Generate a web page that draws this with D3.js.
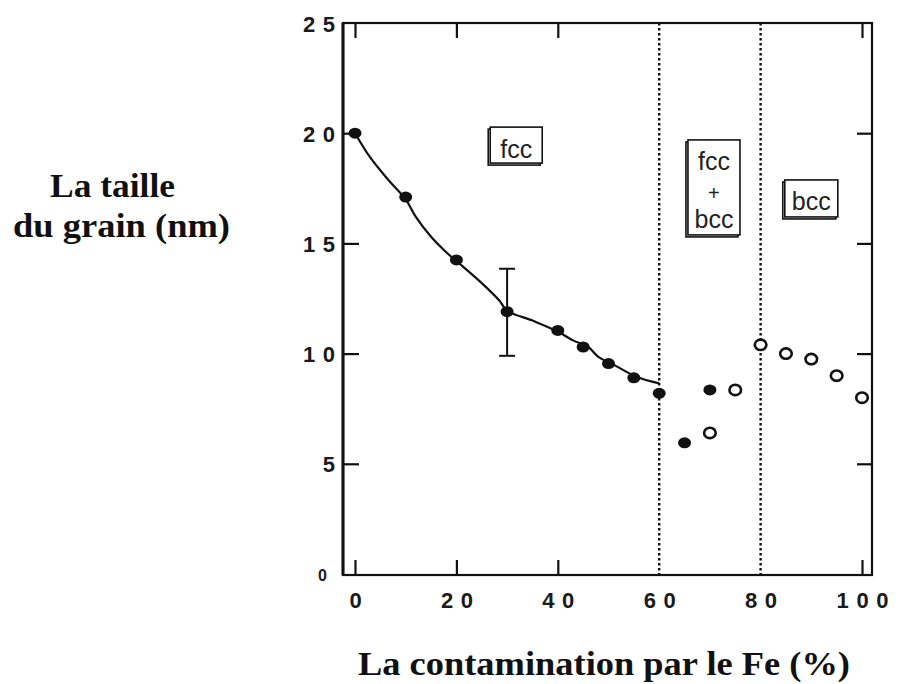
<!DOCTYPE html>
<html>
<head>
<meta charset="utf-8">
<script src="https://cdn.jsdelivr.net/npm/d3@7"></script>
<style>
  html, body { margin: 0; padding: 0; background: #fff; }
  svg { display: block; }
</style>
</head>
<body>
<svg id="chart" width="899" height="684"></svg>
<script>
// Grain size versus Fe contamination
const xTickValues = [0, 20, 40, 60, 80, 100];
const yTickValues = [0, 5, 10, 15, 20, 25];

// fcc single-phase samples (filled)
const fccX = [0, 10, 20, 30, 40, 45, 50, 55, 60];
const fccY = [20.0, 17.1, 14.25, 11.9, 11.05, 10.3, 9.55, 8.9, 8.2];

// filled points in the two-phase region
const mixFilledX = [65, 70];
const mixFilledY = [5.95, 8.35];

// open points
const openX = [70, 75, 80, 85, 90, 95, 100];
const openY = [6.4, 8.35, 10.4, 10.0, 9.75, 9.0, 8.0];

// hand-drawn trend line through the fcc points
const trendX = [0, 3, 6.5, 10, 12, 15, 18, 20, 25, 28.5, 30, 35, 40, 43, 46, 48, 51, 55.5, 60];
const trendY = [20.0, 18.9, 17.9, 17.0, 16.2, 15.3, 14.6, 14.2, 13.2, 12.4, 11.95, 11.5, 11.0, 10.6, 10.3, 9.85, 9.5, 8.95, 8.65];

// error bar on the 30 % sample
const errX = [30];
const errLow = [9.9];
const errHigh = [13.85];

// phase boundaries
const boundaries = [60, 80];

// phase labels
const phaseLabels = [["fcc"], ["fcc", "+", "bcc"], ["bcc"]];

const xTitle = "La contamination par le Fe (%)";
const yTitle = ["La taille", "du grain (nm)"];

const svg = d3.select("#chart");

const frame = { left: 343, right: 872, top: 23, bottom: 575 };
const x = d3.scaleLinear().domain([0, 100]).range([355, 862]);
const y = d3.scaleLinear().domain([0, 25]).range([574, 23]);

const ink = "#111";
const tickFont = "Liberation Sans, Arial, sans-serif";

// plot frame
svg.append("rect")
  .attr("x", frame.left).attr("y", frame.top)
  .attr("width", frame.right - frame.left)
  .attr("height", frame.bottom - frame.top)
  .attr("fill", "none").attr("stroke", ink).attr("stroke-width", 2.2);
svg.append("line")
  .attr("x1", frame.left).attr("x2", frame.left)
  .attr("y1", frame.top).attr("y2", frame.bottom)
  .attr("stroke", ink).attr("stroke-width", 3);

function styleLabels(sel) {
  sel.attr("font-family", tickFont)
    .attr("font-size", 22).attr("font-weight", "bold").attr("fill", "#1a1a1a")
    .each(function (d) {
      const s = String(d);
      if (s.length > 1) d3.select(this).attr("textLength", s.length * 20 - 8).attr("lengthAdjust", "spacing");
    });
}

// bottom axis: inward ticks + labels
const bottomAxis = d3.axisBottom(x).tickValues(xTickValues).tickSize(-15).tickFormat(d3.format("d"));
const gB = svg.append("g").attr("transform", `translate(0,${frame.bottom})`).call(bottomAxis);
gB.select(".domain").remove();
gB.selectAll(".tick line").attr("stroke", ink).attr("stroke-width", 2.2)
  .attr("display", d => boundaries.includes(d) ? "none" : null);
gB.selectAll(".tick text").attr("y", 33).attr("dy", 0).call(styleLabels);

// top axis: inward ticks only
const topAxis = d3.axisTop(x).tickValues(xTickValues).tickSize(-15).tickFormat("");
const gT = svg.append("g").attr("transform", `translate(0,${frame.top})`).call(topAxis);
gT.select(".domain").remove();
gT.selectAll(".tick line").attr("stroke", ink).attr("stroke-width", 2.2)
  .attr("display", d => boundaries.includes(d) ? "none" : null);

// left axis: inward ticks + labels
const leftAxis = d3.axisLeft(y).tickValues(yTickValues).tickSize(-16).tickFormat(d3.format("d"));
const gL = svg.append("g").attr("transform", `translate(${frame.left},0)`).call(leftAxis);
gL.select(".domain").remove();
gL.selectAll(".tick line").attr("stroke", ink).attr("stroke-width", 2.2)
  .attr("display", d => (d === 0 || d === 25) ? "none" : null);
gL.selectAll(".tick text").attr("x", -8).attr("dy", 8).attr("text-anchor", "end").call(styleLabels);
gL.selectAll(".tick text").filter(d => d === 0)
  .attr("font-size", 16).attr("x", -16).attr("dy", 6);

// right axis: inward ticks only
const rightAxis = d3.axisRight(y).tickValues(yTickValues).tickSize(-15).tickFormat("");
const gR = svg.append("g").attr("transform", `translate(${frame.right},0)`).call(rightAxis);
gR.select(".domain").remove();
gR.selectAll(".tick line").attr("stroke", ink).attr("stroke-width", 2.2)
  .attr("display", d => (d === 0 || d === 25) ? "none" : null);

// dotted phase boundaries
svg.selectAll(".boundary").data(boundaries).join("line")
  .attr("class", "boundary")
  .attr("x1", d => x(d)).attr("x2", d => x(d))
  .attr("y1", frame.top).attr("y2", frame.bottom)
  .attr("stroke", ink).attr("stroke-width", 2.4)
  .attr("stroke-dasharray", "2.5,2.5");

// trend line
const trend = d3.zip(trendX, trendY);
svg.append("path")
  .datum(trend)
  .attr("d", d3.line().x(d => x(d[0])).y(d => y(d[1])).curve(d3.curveCatmullRom))
  .attr("fill", "none").attr("stroke", ink).attr("stroke-width", 2.2);

// error bar
errX.forEach((v, i) => {
  const g = svg.append("g").attr("stroke", ink).attr("stroke-width", 2);
  g.append("line").attr("x1", x(v)).attr("x2", x(v)).attr("y1", y(errLow[i])).attr("y2", y(errHigh[i]));
  g.append("line").attr("x1", x(v) - 8).attr("x2", x(v) + 8).attr("y1", y(errLow[i])).attr("y2", y(errLow[i]));
  g.append("line").attr("x1", x(v) - 8).attr("x2", x(v) + 8).attr("y1", y(errHigh[i])).attr("y2", y(errHigh[i]));
});

// filled points
const filled = d3.zip(fccX.concat(mixFilledX), fccY.concat(mixFilledY));
svg.selectAll(".filled").data(filled).join("ellipse")
  .attr("class", "filled")
  .attr("cx", d => x(d[0])).attr("cy", d => y(d[1]))
  .attr("rx", 6.5).attr("ry", 5.5)
  .attr("fill", ink);

// open points
const open = d3.zip(openX, openY);
svg.selectAll(".open").data(open).join("ellipse")
  .attr("class", "open")
  .attr("cx", d => x(d[0])).attr("cy", d => y(d[1]))
  .attr("rx", 5.8).attr("ry", 5.2)
  .attr("fill", "#fff").attr("stroke", ink).attr("stroke-width", 2.6);

// phase label boxes (centre in data units, size in px)
const boxes = [
  { cx: 31.8, cy: 19.46, w: 52, h: 36, baselines: [13] },
  { cx: 70.8, cy: 17.54, w: 52, h: 95, baselines: [-17, 13, 41] },
  { cx: 90.0, cy: 17.04, w: 53, h: 37, baselines: [12] }
];
boxes.forEach((b, i) => {
  const g = svg.append("g").attr("transform", `translate(${x(b.cx)},${y(b.cy)})`);
  g.append("rect")
    .attr("x", -b.w / 2 - 2).attr("y", -b.h / 2 + 2).attr("width", b.w).attr("height", b.h)
    .attr("fill", "none").attr("stroke", ink).attr("stroke-width", 1.6);
  g.append("rect")
    .attr("x", -b.w / 2).attr("y", -b.h / 2).attr("width", b.w).attr("height", b.h)
    .attr("fill", "#fff").attr("stroke", ink).attr("stroke-width", 1.6);
  phaseLabels[i].forEach((t, j) => {
    g.append("text")
      .attr("x", 0).attr("y", b.baselines[j])
      .attr("text-anchor", "middle")
      .attr("font-family", "Liberation Sans, Arial, sans-serif")
      .attr("font-size", t === "+" ? 20 : 25)
      .attr("fill", "#222")
      .text(t);
  });
});

// axis titles
svg.append("text")
  .attr("x", 358).attr("y", 675)
  .attr("font-family", "Liberation Serif, Times New Roman, serif")
  .attr("font-weight", "bold").attr("font-size", 34).attr("fill", ink)
  .attr("textLength", 492).attr("lengthAdjust", "spacingAndGlyphs")
  .text(xTitle);

const yTitleX = [50, 13];
const yTitleW = [125, 217];
const yTitleBase = [197, 237];
yTitle.forEach((t, i) => {
  svg.append("text")
    .attr("x", yTitleX[i]).attr("y", yTitleBase[i])
    .attr("font-family", "Liberation Serif, Times New Roman, serif")
    .attr("font-weight", "bold").attr("font-size", 34).attr("fill", ink)
    .attr("textLength", yTitleW[i]).attr("lengthAdjust", "spacingAndGlyphs")
    .text(t);
});
</script>
</body>
</html>
